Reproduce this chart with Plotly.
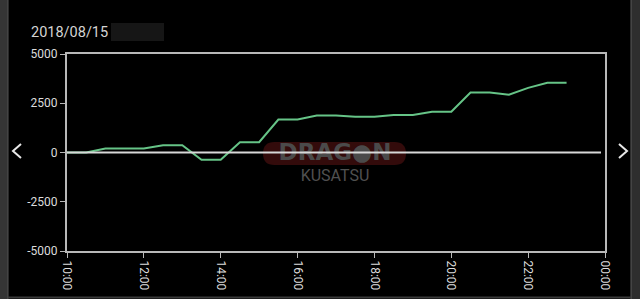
import plotly.graph_objects as go

# ---- data ----
times = ["10:00", "10:30", "11:00", "11:30", "12:00", "12:30", "13:00", "13:30",
         "14:00", "14:30", "15:00", "15:30", "16:00", "16:30", "17:00", "17:30",
         "18:00", "18:30", "19:00", "19:30", "20:00", "20:30", "21:00", "21:30",
         "22:00", "22:30", "23:00"]
values = [0, 0, 200, 200, 200, 370, 370, -370,
          -370, 520, 520, 1670, 1670, 1880, 1880, 1820,
          1820, 1900, 1900, 2070, 2070, 3050, 3050, 2930,
          3280, 3540, 3540]
x_tick_hours = [10, 12, 14, 16, 18, 20, 22, 24]
x_tick_labels = ["10:00", "12:00", "14:00", "16:00", "18:00", "20:00", "22:00", "00:00"]
y_ticks = [-5000, -2500, 0, 2500, 5000]
y_tick_labels = ["-5000", "-2500", "0", "2500", "5000"]
title_text = "2018/08/15"

DATE = "2018-08-15"


def ts(hhmm_or_hour):
    if isinstance(hhmm_or_hour, int):
        h = hhmm_or_hour
        if h >= 24:
            return "2018-08-16 %02d:00" % (h - 24)
        return "%s %02d:00" % (DATE, h)
    return "%s %s" % (DATE, hhmm_or_hour)


xs = [ts(t) for t in times]

# ---- layout geometry (pixels) ----
W, H = 640, 299
L, R, T, B = 67, 35, 54, 48
PW, PH = W - L - R, H - T - B


def px(x):
    return (x - L) / PW


def py(y):
    return (H - B - y) / PH


fig = go.Figure()

# watermark text (drawn under the data line)
fig.add_trace(go.Scatter(
    x=[px(335)], y=[py(154)], xaxis="x2", yaxis="y2",
    mode="text", text=["DRAG●N"],
    textfont=dict(family="DejaVu Sans", size=23, color="#4a4a4a", weight="bold"),
    hoverinfo="skip", showlegend=False))
fig.add_trace(go.Scatter(
    x=[px(335)], y=[py(177)], xaxis="x2", yaxis="y2",
    mode="text", text=["KUSATSU"],
    textfont=dict(family="Roboto", size=16, color="#505050"),
    hoverinfo="skip", showlegend=False))

fig.add_trace(go.Scatter(
    x=xs, y=values, mode="lines",
    line=dict(color="#66c487", width=2),
    hoverinfo="skip", showlegend=False))

axis_col = "#b8b8b8"
fig.update_layout(
    width=W, height=H,
    margin=dict(l=L, r=R, t=T, b=B, autoexpand=False),
    paper_bgcolor="#000000", plot_bgcolor="#000000",
    xaxis=dict(
        type="date",
        range=[ts(10), ts(24)],
        tickvals=[ts(h) for h in x_tick_hours],
        ticktext=x_tick_labels,
        tickangle=90,
        ticks="outside", ticklen=5, tickwidth=1, tickcolor=axis_col,
        showline=True, linecolor=axis_col, linewidth=2, mirror=True,
        showgrid=False, zeroline=False, automargin=False,
        tickfont=dict(family="Roboto", size=12, color="#dcdcdc"),
    ),
    yaxis=dict(
        range=[-5000, 5000],
        tickvals=y_ticks, ticktext=y_tick_labels,
        ticks="outside", ticklen=5, tickwidth=1, tickcolor=axis_col,
        showline=True, linecolor=axis_col, linewidth=2, mirror=True,
        showgrid=False, zeroline=False, automargin=False,
        tickfont=dict(family="Roboto", size=12, color="#dcdcdc"),
    ),
    xaxis2=dict(overlaying="x", range=[0, 1], visible=False, fixedrange=True),
    yaxis2=dict(overlaying="y", range=[0, 1], visible=False, fixedrange=True),
)

shapes = []
# watermark red pill
x0, x1, y0, y1 = 263, 406, 142, 165
r = 11.5
path = (f"M {px(x0 + r)},{py(y0)} L {px(x1 - r)},{py(y0)} "
        f"Q {px(x1)},{py(y0)} {px(x1)},{py((y0 + y1) / 2)} "
        f"Q {px(x1)},{py(y1)} {px(x1 - r)},{py(y1)} "
        f"L {px(x0 + r)},{py(y1)} "
        f"Q {px(x0)},{py(y1)} {px(x0)},{py((y0 + y1) / 2)} "
        f"Q {px(x0)},{py(y0)} {px(x0 + r)},{py(y0)} Z")
shapes.append(dict(type="path", xref="paper", yref="paper", path=path,
                   fillcolor="#330b0b", line=dict(width=0), layer="below"))
# zero line drawn above traces
shapes.append(dict(type="line", xref="paper", yref="y", x0=0, x1=px(601), y0=0, y1=0,
                   line=dict(color="#d8d8d8", width=2), layer="above"))
# redacted box next to the date
shapes.append(dict(type="rect", xref="paper", yref="paper",
                   x0=px(111), x1=px(164), y0=py(41), y1=py(23),
                   fillcolor="#161616", line=dict(width=0)))
# left device edge
shapes.append(dict(type="rect", xref="paper", yref="paper",
                   x0=px(0), x1=px(8), y0=py(H), y1=py(0),
                   fillcolor="#353535", line=dict(width=0)))
shapes.append(dict(type="line", xref="paper", yref="paper",
                   x0=px(8), x1=px(8), y0=py(H), y1=py(0),
                   line=dict(color="#555555", width=1)))
# right device edge
shapes.append(dict(type="rect", xref="paper", yref="paper",
                   x0=px(631), x1=px(W), y0=py(H), y1=py(0),
                   fillcolor="#2e2e2e", line=dict(width=0)))
shapes.append(dict(type="line", xref="paper", yref="paper",
                   x0=px(631), x1=px(631), y0=py(H), y1=py(0),
                   line=dict(color="#5a5a5a", width=1)))
# bottom edge
shapes.append(dict(type="line", xref="paper", yref="paper",
                   x0=px(8), x1=px(631), y0=py(297.5), y1=py(297.5),
                   line=dict(color="#3a3a3a", width=2)))
# chevrons
shapes.append(dict(type="path", xref="paper", yref="paper",
                   path=f"M {px(21)},{py(144)} L {px(13)},{py(151)} L {px(21)},{py(158)}",
                   line=dict(color="#e8e8e8", width=2)))
shapes.append(dict(type="path", xref="paper", yref="paper",
                   path=f"M {px(619)},{py(144)} L {px(627)},{py(151)} L {px(619)},{py(158)}",
                   line=dict(color="#e8e8e8", width=2)))
fig.update_layout(shapes=shapes)

fig.add_annotation(xref="paper", yref="paper", x=px(29), y=py(32),
                   xanchor="left", yanchor="middle", showarrow=False,
                   text=title_text,
                   font=dict(family="Roboto", size=14.5, color="#d4d4d4"))

fig.write_html("out.html")
